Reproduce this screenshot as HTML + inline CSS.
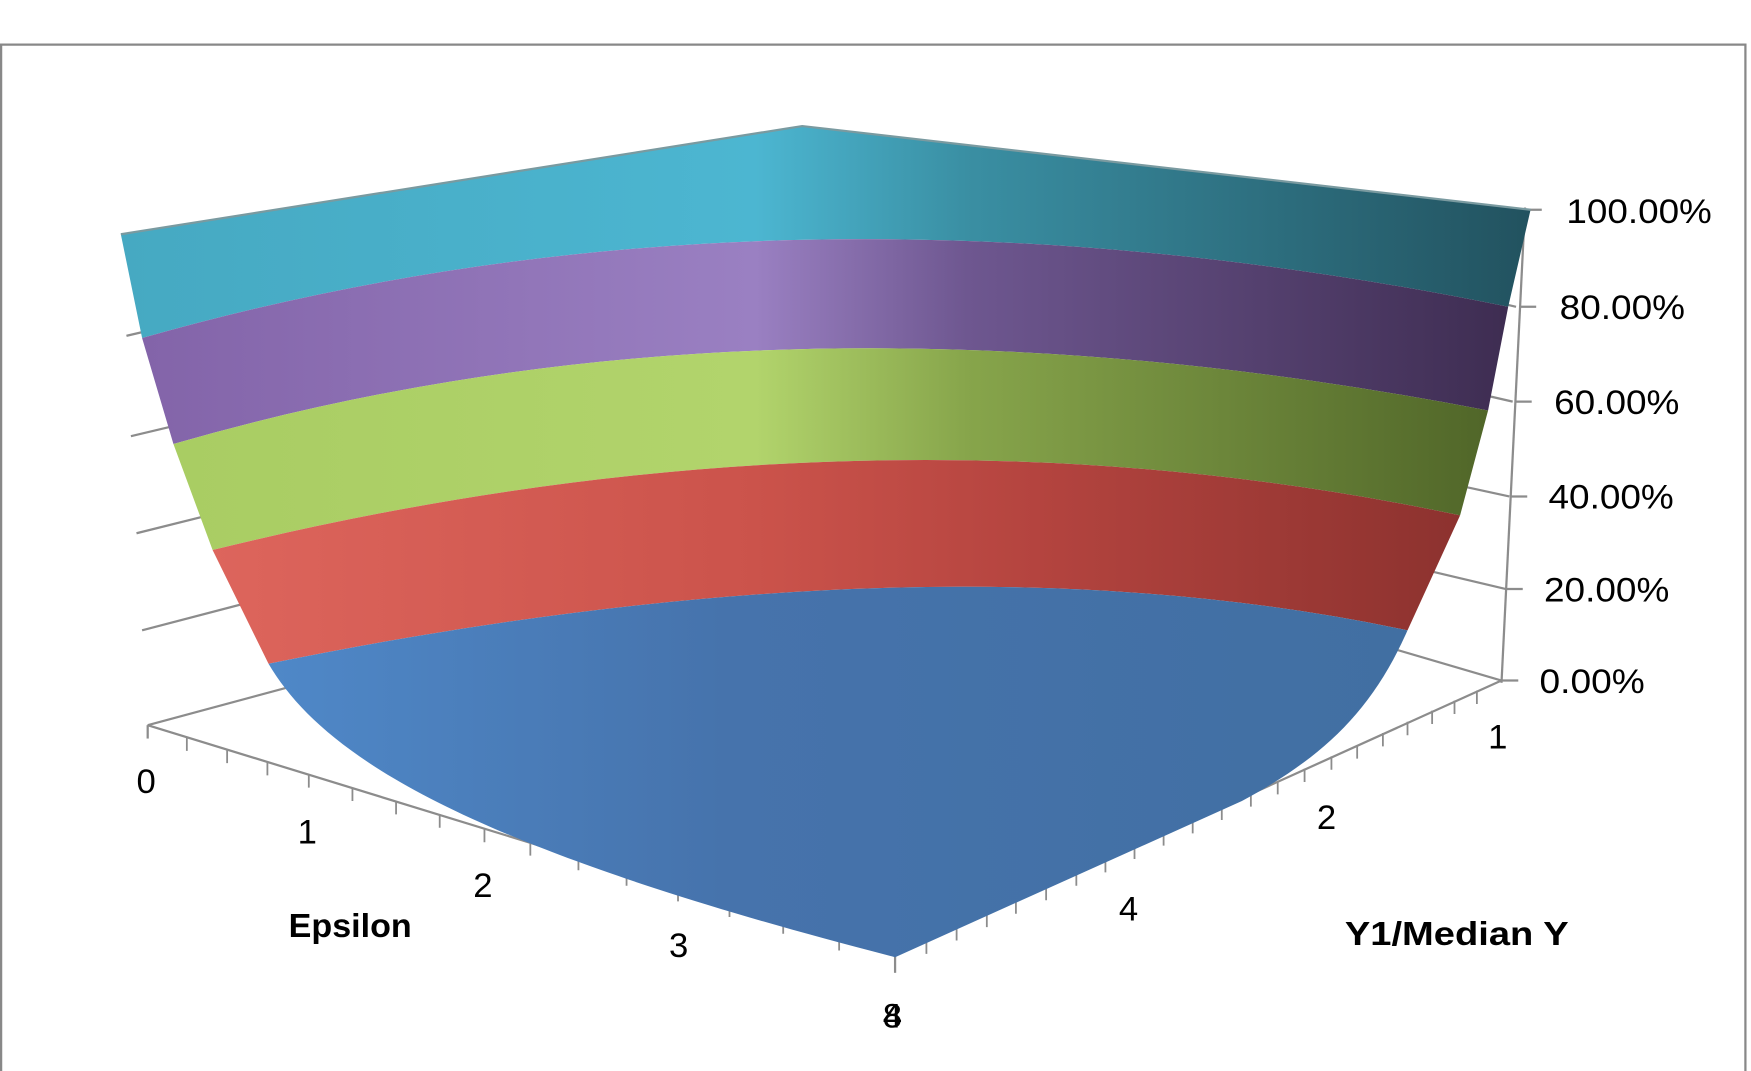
<!DOCTYPE html>
<html><head><meta charset="utf-8"><style>
html,body{margin:0;padding:0;background:#fff;width:1751px;height:1071px;overflow:hidden}
svg{display:block}
text{font-family:"Liberation Sans",sans-serif;fill:#000}
</style></head><body>
<svg width="1751" height="1071" viewBox="0 0 1565 960" preserveAspectRatio="none">
<defs>
<linearGradient id="gc" x1="108" y1="0" x2="1368" y2="0" gradientUnits="userSpaceOnUse">
<stop offset="0" stop-color="#46a9c2"/><stop offset="0.45" stop-color="#4cb6d1"/><stop offset="0.6" stop-color="#3a8fa3"/><stop offset="1" stop-color="#22525f"/></linearGradient>
<linearGradient id="gp" x1="108" y1="0" x2="1368" y2="0" gradientUnits="userSpaceOnUse">
<stop offset="0" stop-color="#8263a8"/><stop offset="0.45" stop-color="#9a80c2"/><stop offset="0.6" stop-color="#6e5790"/><stop offset="1" stop-color="#3c2b4f"/></linearGradient>
<linearGradient id="gg" x1="108" y1="0" x2="1368" y2="0" gradientUnits="userSpaceOnUse">
<stop offset="0" stop-color="#a8cc62"/><stop offset="0.45" stop-color="#b2d46c"/><stop offset="0.6" stop-color="#87a54b"/><stop offset="1" stop-color="#4c6126"/></linearGradient>
<linearGradient id="gr" x1="108" y1="0" x2="1368" y2="0" gradientUnits="userSpaceOnUse">
<stop offset="0" stop-color="#e0685f"/><stop offset="0.45" stop-color="#cb534b"/><stop offset="0.65" stop-color="#b4443f"/><stop offset="1" stop-color="#862f2c"/></linearGradient>
<linearGradient id="gb" x1="240" y1="0" x2="1258" y2="0" gradientUnits="userSpaceOnUse">
<stop offset="0" stop-color="#4f88c8"/><stop offset="0.4" stop-color="#4673ac"/><stop offset="1" stop-color="#416fa2"/></linearGradient>
</defs>
<path d="M1,962 L1,40 L1560,40 L1560,962" fill="none" stroke="#888" stroke-width="2"/>
<g stroke="#8c8c8c" stroke-width="2" fill="none">
<line x1="113" y1="301" x2="160" y2="290"/>
<line x1="117" y1="391" x2="180" y2="376"/>
<line x1="122" y1="478" x2="210" y2="456"/>
<line x1="127" y1="565" x2="230" y2="538"/>
<line x1="132" y1="650" x2="280" y2="610"/>
<line x1="1355" y1="275" x2="1300" y2="262"/>
<line x1="1352" y1="360" x2="1300" y2="348"/>
<line x1="1349" y1="445" x2="1280" y2="430"/>
<line x1="1346" y1="528" x2="1270" y2="510"/>
<line x1="1342" y1="610" x2="1240" y2="580"/>
<line x1="1363" y1="186" x2="1342" y2="612"/>
<line x1="1363" y1="188" x2="1378" y2="188"/>
<line x1="1358" y1="275" x2="1373" y2="275"/>
<line x1="1354" y1="360" x2="1369" y2="360"/>
<line x1="1350" y1="445" x2="1365" y2="445"/>
<line x1="1346" y1="528" x2="1361" y2="528"/>
<line x1="1342" y1="610" x2="1357" y2="610"/>
<line x1="132" y1="650" x2="800" y2="856"/>
<line x1="800" y1="856" x2="1342" y2="610"/>
<line x1="132" y1="650" x2="132" y2="662"/>
<line x1="800" y1="856" x2="800" y2="872"/>
</g>
<g stroke="#8c8c8c" stroke-width="1.6">
<path d="M167,661v12 M203,672v12 M239,683v12 M276,694v12 M315,706v12 M354,718v12 M393,730v12 M433,743v12 M474,755v12 M517,768v12 M560,782v12 M606,796v12 M652,810v12 M700,825v12 M750,840v12"/>
<path d="M828,843v12 M855,831v12 M882,819v12 M908,807v12 M935,795v12 M962,782v12 M988,770v12 M1014,758v12 M1040,746v12 M1066,735v12 M1092,723v12 M1118,711v12 M1142,700v12 M1166,689v12 M1190,678v12 M1213,668v12 M1236,657v12 M1258,647v12 M1280,637v12 M1300,628v12 M1320,619v12"/>
</g>
<path d="M108,210 L717,113 L1368,188 L1348,275 Q693,141 127,303 Z" fill="url(#gc)"/>
<path d="M127,303 Q693,141 1348,275 L1330,368 Q688,243 155,398 Z" fill="url(#gp)"/>
<path d="M155,398 Q688,243 1330,368 L1305,462 Q773,349 190,493 Z" fill="url(#gg)"/>
<path d="M190,493 Q773,349 1305,462 L1258,565 Q831,474 240,595 Z" fill="url(#gr)"/>
<path d="M240,595 Q831,474 1258,565 C1225,640 1180,680 1110,718 L800,858 C420,760 290,680 240,595 Z" fill="url(#gb)"/>
<path d="M108,210 L717,113 L1368,188" fill="none" stroke="#7a9aa0" stroke-width="2"/>
<g font-size="31">
<text x="1400" y="200" textLength="130" lengthAdjust="spacingAndGlyphs">100.00%</text>
<text x="1394" y="286" textLength="112" lengthAdjust="spacingAndGlyphs">80.00%</text>
<text x="1389" y="371" textLength="112" lengthAdjust="spacingAndGlyphs">60.00%</text>
<text x="1384" y="456" textLength="112" lengthAdjust="spacingAndGlyphs">40.00%</text>
<text x="1380" y="539" textLength="112" lengthAdjust="spacingAndGlyphs">20.00%</text>
<text x="1376" y="621" textLength="94" lengthAdjust="spacingAndGlyphs">0.00%</text>
<text x="122" y="711">0</text>
<text x="266" y="756">1</text>
<text x="423" y="804">2</text>
<text x="598" y="858">3</text>
<text x="789" y="921">4</text>
<text x="789" y="921">8</text>
<text x="1330" y="671">1</text>
<text x="1177" y="743">2</text>
<text x="1000" y="825">4</text>
</g>
<g font-size="30" font-weight="bold">
<text x="258" y="840" textLength="110" lengthAdjust="spacingAndGlyphs">Epsilon</text>
<text x="1202" y="847" textLength="200" lengthAdjust="spacingAndGlyphs">Y1/Median Y</text>
</g>
</svg>
</body></html>
